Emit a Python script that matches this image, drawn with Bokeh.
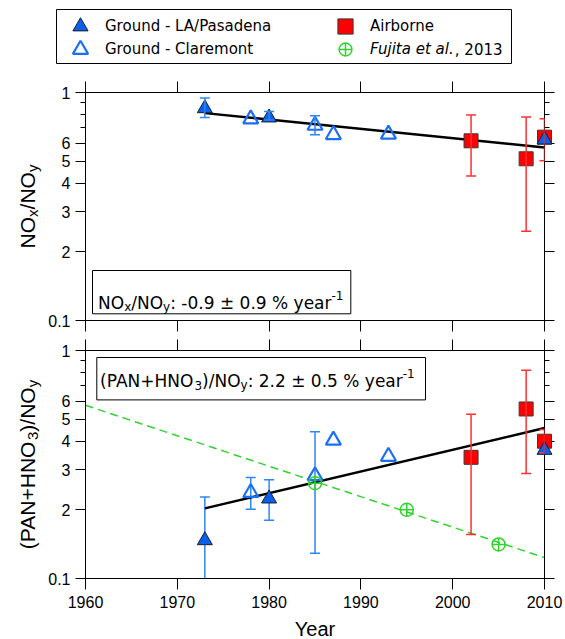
import math
from bokeh.plotting import figure
from bokeh.models import (Range1d, FixedTicker, LinearAxis, LogAxis, Whisker, TeeHead,
                          ColumnDataSource, Legend, LegendItem, Label, BoxAnnotation)
from bokeh.layouts import column, row
from bokeh.embed import file_html
from bokeh.resources import INLINE

# ---------------- data ----------------
x_ticks = [1960, 1970, 1980, 1990, 2000, 2010]
y_major = [0.1, 0.2, 0.3, 0.4, 0.5, 0.6, 1.0]
y_minor = [0.7, 0.8, 0.9]
y_labels = ["0.1", "2", "3", "4", "5", "6", "1"]

# NOx/NOy panel
la_years = [1973, 1980, 2010]
la_nox = [0.852, 0.776, 0.621]
la_nox_err_years = [1973, 1980]
la_nox_hi = [0.945, 0.826]
la_nox_lo = [0.777, 0.757]

cl_years = [1978, 1985, 1987, 1993]
cl_nox = [0.765, 0.717, 0.653, 0.656]
cl_nox_err_years = [1985]
cl_nox_hi = [0.79]
cl_nox_lo = [0.652]

air_years = [2002, 2008, 2010]
air_nox = [0.614, 0.512, 0.637]
air_nox_hi = [0.796, 0.780, 0.767]
air_nox_lo = [0.430, 0.246, 0.502]

nox_fit_years = [1973, 2010]
nox_fit = [0.812, 0.574]

# (PAN+HNO3)/NOy panel
la_pan = [0.147, 0.224, 0.366]
la_pan_err_years = [1973, 1980]
la_pan_hi = [0.228, 0.271]
la_pan_lo = [0.098, 0.180]

cl_pan = [0.238, 0.282, 0.404, 0.343]
cl_pan_err_years = [1978, 1985]
cl_pan_hi = [0.277, 0.440]
cl_pan_lo = [0.201, 0.129]

air_pan = [0.340, 0.554, 0.400]
air_pan_hi = [0.525, 0.820, 0.450]
air_pan_lo = [0.156, 0.289, 0.356]

fujita_years = [1985, 1995, 2005]
fujita_pan = [0.262, 0.200, 0.141]
fujita_trend_years = [1960, 2010]
fujita_trend = [0.575, 0.1235]

pan_fit_years = [1973, 2010]
pan_fit = [0.203, 0.457]

# ---------------- styles / layout ----------------
FW = 459
LAB_W = 45
X0, X1, Y0, Y1 = 1960, 2010, 0.1, 1.0
TICK_FONT = "Liberation Sans"
BOX_FONT = "DejaVu Sans"
LA_FILL, LA_LINE = "#0b5fe8", "#1e1e2e"
CL_LINE = "#1a6ff5"
BLUE_ERR = "#2f86f6"
RED_FILL, RED_LINE, RED_ERR = "#ff0000", "#3a3a3a", "#ff3030"
GREEN = "#2fd42f"

LA_STYLE = dict(marker="triangle", size=15, fill_color=LA_FILL, line_color=LA_LINE, line_width=1)
CL_STYLE = dict(marker="triangle", size=15, fill_color=None, line_color=CL_LINE, line_width=2.2)
AIR_STYLE = dict(marker="square", size=14, fill_color=RED_FILL, line_color=RED_LINE, line_width=1)
FJ_STYLE = dict(marker="circle_cross", size=13, fill_color=None, line_color=GREEN, line_width=1.5)

DV = {' ': .318, '(': .390, ')': .390, '+': .838, '-': .361, '.': .318, '/': .337,
      ':': .337, '%': .950, '\u00b1': .838, 'A': .684, 'H': .752, 'N': .748, 'O': .787,
      'P': .603, 'a': .613, 'e': .615, 'r': .411, 'x': .592, 'y': .592, 'F': .575,
      'u': .634, 'j': .278, 'i': .278, 't': .392, 'l': .278, ',': .318}
for d in "0123456789":
    DV[d] = .636
LS = {'N': .722, 'O': .778, '/': .278, 'x': .5, 'y': .5, '(': .333, ')': .333,
      'P': .667, 'A': .667, '+': .584, 'H': .722, '3': .556}


def tw(txt, table, size):
    return sum(table[c] for c in txt) * size


def xd(px):
    return X0 + (X1 - X0) * px / FW


def yd(px, fh):
    return 10 ** (math.log10(Y0) + (math.log10(Y1) - math.log10(Y0)) * px / fh)


def add_text(p, pieces, table, font, ax, ay, x0, y0, rotated=False):
    cum = 0.0
    for txt, size, dy in pieces:
        if rotated:
            xo, yo, ang = x0 - dy, y0 + cum, math.pi / 2
        else:
            xo, yo, ang = x0 + cum, y0 + dy, 0.0
        p.add_layout(Label(x=ax, y=ay, x_offset=xo, y_offset=yo, text=txt, angle=ang,
                           text_font=font, text_font_size=f"{size}px", text_color="black",
                           text_align="left", text_baseline="alphabetic"))
        cum += tw(txt, table, size)
    return cum


def blank_fig(fw, fh, left, right, top, bottom, outline=None):
    p = figure(x_range=Range1d(0, 1), y_range=Range1d(0, 1), frame_width=fw, frame_height=fh,
               min_border_left=left, min_border_right=right, min_border_top=top,
               min_border_bottom=bottom, x_axis_location=None, y_axis_location=None,
               output_backend="svg", toolbar_location=None, tools="")
    p.grid.visible = False
    p.outline_line_color = outline
    p.outline_line_alpha = 1
    p.background_fill_color = "white"
    p.border_fill_color = "white"
    return p


def make_fig(fh, top_border, bottom_border, show_x_labels):
    p = figure(x_range=Range1d(X0, X1), y_range=Range1d(Y0, Y1), y_axis_type="log",
               frame_width=FW, frame_height=fh, min_border_left=83 - LAB_W, min_border_right=20,
               min_border_top=top_border, min_border_bottom=bottom_border,
               output_backend="svg", toolbar_location=None, tools="")
    p.grid.visible = False
    p.outline_line_color = "black"
    p.outline_line_alpha = 1
    p.outline_line_width = 1
    p.background_fill_color = "white"
    p.border_fill_color = "white"
    p.add_layout(LogAxis(), "right")
    p.add_layout(LinearAxis(), "above")
    for ax in p.yaxis:
        ax.ticker = FixedTicker(ticks=y_major, minor_ticks=y_minor)
        ax.major_label_overrides = dict(zip(y_major, y_labels))
        ax.major_tick_out = 10
        ax.major_tick_in = 0
        ax.minor_tick_out = 5
        ax.minor_tick_in = 0
        ax.axis_line_color = "black"
        ax.major_tick_line_color = "black"
        ax.minor_tick_line_color = "black"
        ax.major_label_text_font = TICK_FONT
        ax.major_label_text_font_size = "16px"
        ax.major_label_text_color = "black"
        ax.major_label_standoff = 5
    for ax in p.xaxis:
        ax.ticker = FixedTicker(ticks=x_ticks, minor_ticks=[])
        ax.major_tick_out = 11
        ax.major_tick_in = 0
        ax.axis_line_color = "black"
        ax.major_tick_line_color = "black"
        ax.major_label_text_font = TICK_FONT
        ax.major_label_text_font_size = "16px"
        ax.major_label_text_color = "black"
        ax.major_label_standoff = 6
    hidden = [p.right[0], p.above[0]]
    if not show_x_labels:
        hidden.append(p.below[0])
    for ax in hidden:
        ax.major_label_text_font_size = "0px"
        ax.major_label_text_color = None
        ax.major_label_standoff = 0
    return p


def whisker(p, xs, hi, lo, color, level):
    src = ColumnDataSource(dict(x=xs, hi=hi, lo=lo))
    w = Whisker(source=src, base="x", upper="hi", lower="lo", dimension="height",
                line_color=color, line_width=1.5, level=level,
                upper_head=TeeHead(size=10, line_color=color, line_width=1.5),
                lower_head=TeeHead(size=10, line_color=color, line_width=1.5))
    p.add_layout(w)


def text_box(p, left, right, bottom, top):
    p.add_layout(BoxAnnotation(left=left, right=right, bottom=bottom, top=top,
                               fill_color="white", fill_alpha=1, line_color="black",
                               line_alpha=1, line_width=1, level="annotation"))


# ---------------- legend strip ----------------
# the legend strip has its own (unit) ranges, so these series fall outside its frame;
# they only provide the glyph styles for the legend entries
p0 = blank_fig(455, 55, 56, 51, 9, 0, outline="black")
g_la = p0.scatter(la_years, la_nox, **LA_STYLE)
g_cl = p0.scatter(cl_years, cl_nox, **CL_STYLE)
g_air = p0.scatter(air_years, air_nox, **AIR_STYLE)
g_fj = p0.scatter(fujita_years, fujita_pan, **FJ_STYLE)


def one_legend(label, rend, vx, vy, gsize, standoff, style="normal"):
    lg = Legend(items=[LegendItem(label=label, renderers=[rend])], location=(vx, vy),
                border_line_color=None, background_fill_alpha=0, padding=0, margin=0,
                spacing=0, glyph_width=gsize, glyph_height=gsize, label_standoff=standoff,
                label_text_font=BOX_FONT, label_text_font_size="15px",
                label_text_color="black", label_text_font_style=style, label_height=20)
    p0.add_layout(lg)


one_legend("Ground - LA/Pasadena", g_la, 5, 19, 38, 6)
one_legend("Ground - Claremont", g_cl, 5, -4, 38, 6)
one_legend("Airborne", g_air, 270, 19, 38, 6)
one_legend("Fujita et al.", g_fj, 273, -1, 32, 9, "italic")
p0.add_layout(Label(x=0, y=0, x_offset=314 + tw("Fujita et al.", DV, 15), y_offset=15,
                    text=", 2013", text_font=BOX_FONT, text_font_size="15px",
                    text_color="black", text_align="left", text_baseline="middle"))

# ---------------- top panel ----------------
FH1 = 228
p1 = make_fig(FH1, 28, 15, False)
whisker(p1, la_nox_err_years, la_nox_hi, la_nox_lo, BLUE_ERR, "annotation")
whisker(p1, cl_nox_err_years, cl_nox_hi, cl_nox_lo, BLUE_ERR, "annotation")
whisker(p1, air_years, air_nox_hi, air_nox_lo, RED_ERR, "annotation")
p1.line(nox_fit_years, nox_fit, line_color="black", line_width=2.5)
p1.scatter(air_years, air_nox, level="annotation", **AIR_STYLE)
p1.scatter(cl_years, cl_nox, level="annotation", **CL_STYLE)
p1.scatter(la_years, la_nox, level="annotation", **LA_STYLE)

text_box(p1, xd(7), xd(265.3), yd(6.7, FH1), yd(50, FH1))
add_text(p1, [("NO", 17, 0), ("x", 12, -4.5), ("/NO", 17, 0), ("y", 12, -4.5),
              (": -0.9 \u00b1 0.9 % year", 17, 0), ("-1", 12, 7.5)],
         DV, BOX_FONT, X0, Y0, 12.6, 17.7)

lab1 = blank_fig(LAB_W, FH1, 0, 0, 28, 15)
ylab1 = [("NO", 21, 0), ("x", 15, -5), ("/NO", 21, 0), ("y", 15, -5)]
L1 = sum(tw(t, LS, s) for t, s, _ in ylab1)
add_text(lab1, ylab1, LS, TICK_FONT, 0, 0, 27, FH1 / 2 - L1 / 2, rotated=True)

# ---------------- bottom panel ----------------
FH2 = 228
p2 = make_fig(FH2, 15, 61, True)
whisker(p2, la_pan_err_years, la_pan_hi, la_pan_lo, BLUE_ERR, "underlay")
whisker(p2, cl_pan_err_years, cl_pan_hi, cl_pan_lo, BLUE_ERR, "underlay")
p2.line(fujita_trend_years, fujita_trend, line_color=GREEN, line_width=1.5, line_dash="8 5")
p2.line(pan_fit_years, pan_fit, line_color="black", line_width=2.5)
whisker(p2, air_years, air_pan_hi, air_pan_lo, RED_ERR, "annotation")
p2.scatter(air_years, air_pan, level="annotation", **AIR_STYLE)
p2.scatter(cl_years, cl_pan, level="annotation", **CL_STYLE)
p2.scatter(la_years, la_pan, level="annotation", **LA_STYLE)
p2.scatter(fujita_years, fujita_pan, level="annotation", **FJ_STYLE)

text_box(p2, xd(11.3), xd(340), yd(FH2 - 49.4, FH2), yd(FH2 - 7, FH2))
add_text(p2, [("(PAN+HNO", 17, 0), ("3", 12, -4.5), (")/NO", 17, 0), ("y", 12, -4.5),
              (": 2.2 \u00b1 0.5 % year", 17, 0), ("-1", 12, 7.5)],
         DV, BOX_FONT, X0, Y1, 14.6, -30)

lab2 = blank_fig(LAB_W, FH2, 0, 0, 15, 61)
ylab2 = [("(PAN+HNO", 21, 0), ("3", 15, -5), (")/NO", 21, 0), ("y", 15, -5)]
L2 = sum(tw(t, LS, s) for t, s, _ in ylab2)
add_text(lab2, ylab2, LS, TICK_FONT, 0, 0, 27, FH2 / 2 - L2 / 2, rotated=True)

xb = p2.below[0]
xb.axis_label = "Year"
xb.axis_label_text_font = TICK_FONT
xb.axis_label_text_font_size = "20px"
xb.axis_label_text_font_style = "normal"
xb.axis_label_text_color = "black"
xb.axis_label_standoff = 7

layout = column(p0, row(lab1, p1, spacing=0), row(lab2, p2, spacing=0), spacing=0)
open("out.html", "w").write(file_html(layout, INLINE))
